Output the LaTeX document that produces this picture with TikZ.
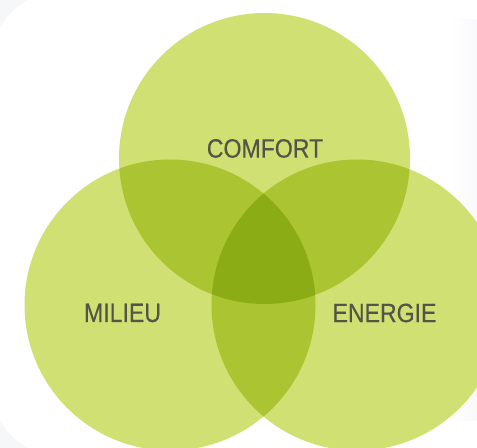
\documentclass[tikz,border=0pt]{standalone}
\usepackage{fontspec}
\newfontfamily\labelfont[FakeStretch=0.87,FakeBold=0.4]{Liberation Sans}
\definecolor{leafgreen}{RGB}{209,224,114}
\definecolor{labelgray}{RGB}{82,85,72}
\definecolor{paper}{RGB}{246,247,249}
\definecolor{shadow}{RGB}{249,249,251}
\tikzset{every picture/.style={line width=0.75pt}}
\tikzset{
  setcircle/.style={draw opacity=0,fill=leafgreen,fill opacity=1},
  setlabel/.style={inner sep=0.75pt,text=labelgray,font=\labelfont\fontsize{19.9}{24}\selectfont}
}
\begin{document}
\begin{tikzpicture}[x=0.75pt,y=0.75pt,yscale=-1,xscale=1]
\useasboundingbox (0,0) rectangle (477,448);

%Shape: Rectangle (background)
\fill [paper] (0,0) rectangle (477,448);
%Shape: Rectangle (page)
\fill [white,rounded corners=51pt] (-8,-8) rectangle (560,456);
%Shape: Rectangle (shadow on the right)
\shade [left color=white,right color=shadow] (450,20) rectangle (477,420);

\begin{scope}[blend group=multiply]
%Shape: Circle [comfort]
\draw [setcircle] (264.5,158.5) circle [radius=145.5];
%Shape: Circle [milieu]
\draw [setcircle] (170,305) circle [radius=145.5];
%Shape: Circle [energie]
\draw [setcircle] (357,305) circle [radius=145.5];
\end{scope}

% Text Node
\node [setlabel] (comfort) at (265,148.5) {COMFORT};
% Text Node
\node [setlabel] (milieu) at (122.5,313) {MILIEU};
% Text Node
\node [setlabel] (energie) at (384.5,313) {ENERGIE};

\end{tikzpicture}
\end{document}
